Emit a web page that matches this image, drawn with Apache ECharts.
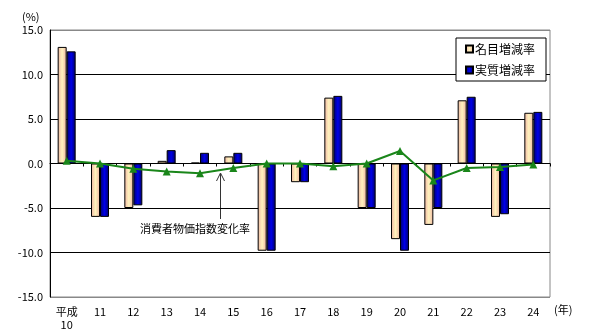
<!DOCTYPE html>
<html><head><meta charset="utf-8">
<script src="https://cdn.jsdelivr.net/npm/echarts@6/dist/echarts.min.js"></script>
<style>html,body{margin:0;padding:0;background:#fff}#c{width:592px;height:335px}</style>
</head><body><div id="c"></div>
<script>
const categories = ['平成\n10','11','12','13','14','15','16','17','18','19','20','21','22','23','24'];
const nominal = [13.1,-6.0,-5.0,0.3,0.1,0.8,-9.8,-2.1,7.4,-5.0,-8.5,-6.9,7.1,-6.0,5.7];
const real = [12.6,-6.0,-4.7,1.5,1.2,1.2,-9.8,-2.1,7.6,-5.0,-9.8,-5.0,7.5,-5.7,5.8];
const cpi = [0.3,0.0,-0.6,-0.9,-1.1,-0.5,0.0,0.0,-0.3,0.0,1.4,-1.9,-0.5,-0.4,-0.1];
const yTicks = {min:-15, max:15, interval:5};

const FF = "'Noto Sans CJK JP', sans-serif";
const chart = echarts.init(document.getElementById('c'));
const beige = new echarts.graphic.LinearGradient(0,0,1,0,[
  {offset:0,color:'#eeb4a4'},{offset:0.5,color:'#fff2bc'},{offset:1,color:'#eeb4a4'}]);
const blue = new echarts.graphic.LinearGradient(0,0,1,0,[
  {offset:0,color:'#000068'},{offset:0.5,color:'#0000e8'},{offset:1,color:'#000068'}]);

chart.setOption({
  animation:false,
  textStyle:{fontFamily:FF},
  grid:{left:50,right:42,top:30,bottom:38,show:true,borderColor:'#888',borderWidth:1,backgroundColor:'#fff'},
  legend:{
    data:['名目増減率','実質増減率'], orient:'vertical', left:456, top:38,
    width:90, padding:[5,11,5,9], itemGap:9, itemWidth:7, itemHeight:7,
    borderColor:'#000', borderWidth:1, backgroundColor:'#fff',
    icon:'rect', textStyle:{fontSize:12,color:'#000',fontFamily:FF,padding:[0,0,0,-3]}
  },
  xAxis:[{
    type:'category', data:categories, position:'bottom',
    axisLine:{show:false,onZero:false}, axisTick:{show:false},
    axisLabel:{color:'#000',fontSize:11,margin:8,lineHeight:13,interval:0}
  },{
    type:'category', data:categories, position:'top',
    axisLine:{show:true,onZero:true,lineStyle:{color:'#000',width:1}},
    axisTick:{show:true,inside:true,length:3,lineStyle:{color:'#000'}},
    axisLabel:{show:false}
  }],
  yAxis:{
    type:'value', min:yTicks.min, max:yTicks.max, interval:yTicks.interval,
    axisLine:{show:true,lineStyle:{color:'#000'}}, axisTick:{show:false},
    axisLabel:{color:'#000',fontSize:11,margin:7,formatter:v=>v.toFixed(1)},
    splitLine:{show:true,lineStyle:{color:['#888','#000','#000','#000','#000','#000','#888'],width:1}}
  },
  series:[{
    name:'名目増減率', type:'bar', data:nominal, barWidth:9, barGap:'0%',
    itemStyle:{color:beige,borderColor:'#000',borderWidth:1}
  },{
    name:'実質増減率', type:'bar', data:real, barWidth:9, barGap:'0%',
    itemStyle:{color:blue,borderColor:'#000',borderWidth:1}
  },{
    name:'消費者物価指数変化率', type:'line', data:cpi, z:5,
    symbol:'triangle', symbolSize:8,
    lineStyle:{color:'#1a861a',width:2}, itemStyle:{color:'#1a861a'}
  }],
  graphic:[
    {type:'text',left:22,top:11,style:{text:'(%)',fontSize:11,fill:'#000',fontFamily:FF}},
    {type:'text',left:554,top:304,style:{text:'(年)',fontSize:11,fill:'#000',fontFamily:FF}},
    {type:'text',left:140,top:223,style:{text:'消費者物価指数変化率',fontSize:11,fill:'#000',fontFamily:FF}},
    {type:'polyline',shape:{points:[[220.5,219],[220.5,174]]},style:{stroke:'#333',lineWidth:1}},
    {type:'polyline',shape:{points:[[216.5,181],[220.5,173],[224.5,181]]},style:{stroke:'#333',lineWidth:1,fill:null}}
  ]
});
</script></body></html>
